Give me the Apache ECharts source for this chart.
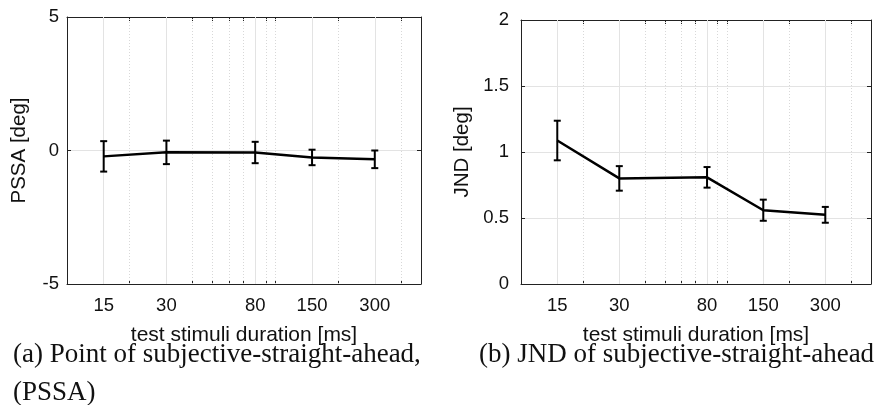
<!DOCTYPE html>
<html><head><meta charset="utf-8">
<script src="https://cdn.jsdelivr.net/npm/echarts@6/dist/echarts.min.js"></script>
<style>html,body{margin:0;padding:0;background:#fff}#c{width:876px;height:405px}</style>
</head><body><div id="c"></div>
<script>
// ---- data ----
const durations = [15, 30, 80, 150, 300];
const xTickLabels = [15, 30, 80, 150, 300];
const minorGrid = [20, 40, 50, 60, 70, 90, 100, 200, 400];
const allTicks = [10, 15, 20, 30, 40, 50, 60, 70, 80, 90, 100, 150, 200, 300, 400, 500];
const pssaMean = [-0.22, -0.07, -0.075, -0.26, -0.33];
const pssaErr = [0.57, 0.44, 0.40, 0.29, 0.33];
const jndMean = [1.087, 0.80, 0.808, 0.559, 0.524];
const jndErr = [0.15, 0.093, 0.078, 0.08, 0.06];
const pssaRange = [-5, 5], pssaInterval = 5;
const jndRange = [0, 2], jndInterval = 0.5;
const xName = 'test stimuli duration [ms]';
const captionA1 = '(a) Point of subjective-straight-ahead,';
const captionA2 = '(PSSA)';
const captionB = '(b) JND of subjective-straight-ahead';

const SANS = '"Liberation Sans", Arial, Helvetica, sans-serif';
const SERIF = '"Liberation Serif", "Times New Roman", serif';
const AXC = '#222';
const GRIDC = '#e3e3e3';

function xAxis(gi, pos, withLabels) {
  return {
    type: 'log', logBase: 10, gridIndex: gi, position: pos, min: 10, max: 500,
    axisLine: { show: true, onZero: false, lineStyle: { color: AXC, width: 1 } },
    axisTick: { show: true, inside: true, length: 4, customValues: allTicks, lineStyle: { color: AXC, width: 1 } },
    axisLabel: { show: withLabels, customValues: xTickLabels, fontSize: 18.5, color: '#111', margin: 12, fontFamily: SANS },
    splitLine: { show: false }, minorTick: { show: false }, minorSplitLine: { show: false },
    name: withLabels ? xName : '', nameLocation: 'middle', nameGap: 41,
    nameTextStyle: { fontSize: 21, color: '#111', fontFamily: SANS }
  };
}
function yAxis(gi, pos, range, interval, withLabels, name, nameGap) {
  return {
    type: 'value', gridIndex: gi, position: pos, min: range[0], max: range[1], interval: interval,
    axisLine: { show: true, onZero: false, lineStyle: { color: AXC, width: 1 } },
    axisTick: { show: true, inside: true, length: 4, lineStyle: { color: AXC, width: 1 } },
    axisLabel: { show: withLabels, fontSize: 18.5, color: '#111', margin: gi === 0 ? 8 : 12, fontFamily: SANS },
    splitLine: { show: withLabels, lineStyle: { color: GRIDC, width: 1 } },
    name: withLabels ? name : '', nameLocation: 'middle', nameGap: nameGap, nameRotate: 90,
    nameTextStyle: { fontSize: 20.5, color: '#111', fontFamily: SANS }
  };
}

function gridLineSeries(xi, yi) {
  const data = [];
  xTickLabels.forEach(v => data.push({ xAxis: v, lineStyle: { color: GRIDC, type: 'solid', width: 1 } }));
  minorGrid.forEach(v => data.push({ xAxis: v, lineStyle: { color: '#d8d8d8', type: [1, 2], width: 1 } }));
  return {
    type: 'line', xAxisIndex: xi, yAxisIndex: yi, data: [], silent: true, z: 1,
    markLine: { silent: true, z: 1, zlevel: 0, symbol: 'none', label: { show: false }, animation: false, data: data }
  };
}

function errorSeries(xi, yi, means, errs) {
  return {
    type: 'custom', xAxisIndex: xi, yAxisIndex: yi, z: 6, silent: true,
    data: durations.map((d, i) => [d, means[i] - errs[i], means[i] + errs[i]]),
    encode: { x: 0, y: [1, 2] },
    renderItem: function (params, api) {
      const x = api.value(0), lo = api.value(1), hi = api.value(2);
      const pt = api.coord([x, hi]), pb = api.coord([x, lo]);
      const hw = 3.5;
      const st = { stroke: '#000', lineWidth: 2 };
      return { type: 'group', children: [
        { type: 'line', shape: { x1: pt[0], y1: pt[1], x2: pb[0], y2: pb[1] }, style: st },
        { type: 'line', shape: { x1: pt[0] - hw, y1: pt[1], x2: pt[0] + hw, y2: pt[1] }, style: st },
        { type: 'line', shape: { x1: pb[0] - hw, y1: pb[1], x2: pb[0] + hw, y2: pb[1] }, style: st }
      ] };
    }
  };
}

function meanSeries(xi, yi, means) {
  return {
    type: 'line', xAxisIndex: xi, yAxisIndex: yi, z: 6, silent: true,
    data: durations.map((d, i) => [d, means[i]]),
    symbol: 'none', lineStyle: { color: '#000', width: 2.5 }
  };
}

const chart = echarts.init(document.getElementById('c'), null, { renderer: 'canvas' });
chart.setOption({
  animation: false,
  backgroundColor: '#fff',
  grid: [
    { left: 67, top: 17, width: 354, height: 267 },
    { left: 521, top: 20, width: 350, height: 264 }
  ],
  xAxis: [xAxis(0, 'bottom', true), xAxis(0, 'top', false), xAxis(1, 'bottom', true), xAxis(1, 'top', false)],
  yAxis: [
    yAxis(0, 'left', pssaRange, pssaInterval, true, 'PSSA [deg]', 37),
    yAxis(0, 'right', pssaRange, pssaInterval, false, '', 0),
    yAxis(1, 'left', jndRange, jndInterval, true, 'JND [deg]', 48),
    yAxis(1, 'right', jndRange, jndInterval, false, '', 0)
  ],
  series: [
    gridLineSeries(0, 0), meanSeries(0, 0, pssaMean), errorSeries(0, 0, pssaMean, pssaErr),
    gridLineSeries(2, 2), meanSeries(2, 2, jndMean), errorSeries(2, 2, jndMean, jndErr)
  ],
  graphic: [
    { type: 'text', x: 13, y: 355, style: { text: captionA1, fontSize: 27, fontFamily: SERIF, fill: '#111', align: 'left', verticalAlign: 'middle' } },
    { type: 'text', x: 13, y: 393, style: { text: captionA2, fontSize: 27, fontFamily: SERIF, fill: '#111', align: 'left', verticalAlign: 'middle' } },
    { type: 'text', x: 479, y: 355, style: { text: captionB, fontSize: 27, fontFamily: SERIF, fill: '#111', align: 'left', verticalAlign: 'middle' } }
  ]
});
</script></body></html>
